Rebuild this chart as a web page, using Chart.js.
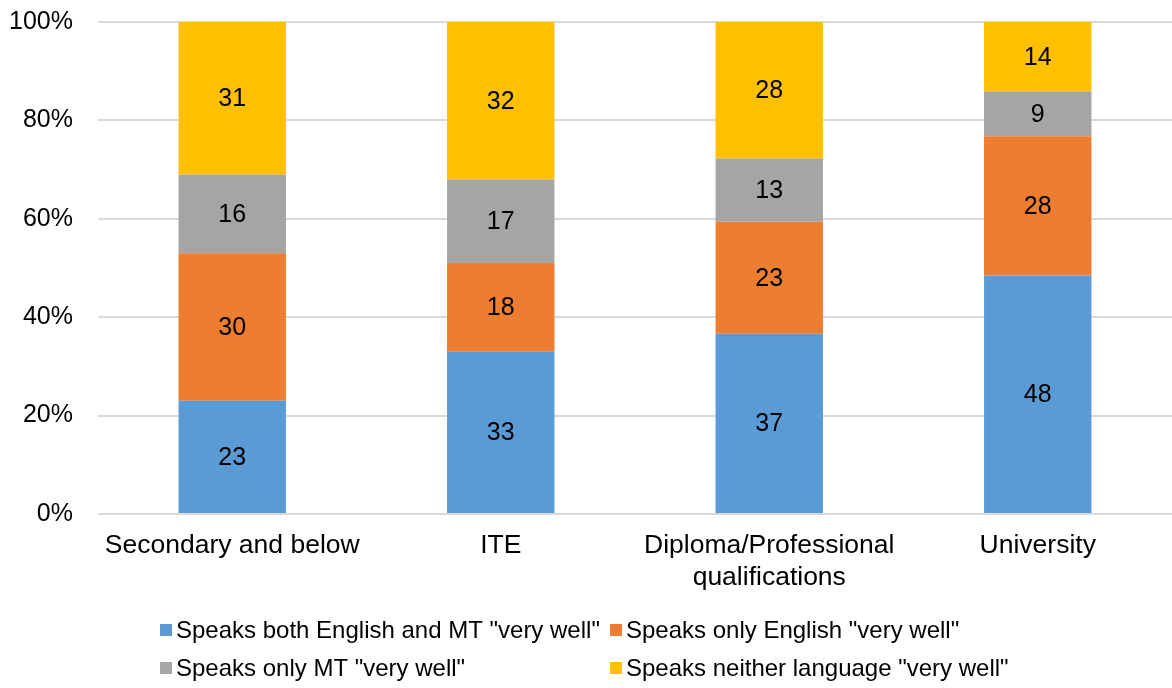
<!DOCTYPE html>
<html>
<head>
<meta charset="utf-8">
<script src="https://cdn.jsdelivr.net/npm/chart.js@4"></script>
<style>
  html, body { margin: 0; padding: 0; background: #fff; }
  #wrap { width: 1172px; height: 688px; }
</style>
</head>
<body>
<div id="wrap"><canvas id="barChart"></canvas></div>
<script>
const categories = ['Secondary and below', 'ITE', ['Diploma/Professional', 'qualifications'], 'University'];
const seriesNames = [
  'Speaks both English and MT "very well"',
  'Speaks only English "very well"',
  'Speaks only MT "very well"',
  'Speaks neither language "very well"'
];
const bothVeryWell = [23, 33, 37, 48];
const englishOnly = [30, 18, 23, 28];
const mtOnly = [16, 17, 13, 9];
const neither = [31, 32, 28, 14];
const seriesColors = ['#5B9BD5', '#ED7D31', '#A5A5A5', '#FFC000'];
const yTicks = [0, 20, 40, 60, 80, 100];

const FONT = '"Liberation Sans", Arial, sans-serif';
const raw = [bothVeryWell, englishOnly, mtOnly, neither];

// each column is shown as a share of its own total
const totals = categories.map((c, i) => raw.reduce((s, arr) => s + arr[i], 0));
const shares = raw.map(arr => arr.map((v, i) => v / totals[i] * 100));

const valueLabels = {
  id: 'valueLabels',
  afterDatasetsDraw(chart) {
    const ctx = chart.ctx;
    ctx.save();
    ctx.font = '25px ' + FONT;
    ctx.fillStyle = '#000';
    ctx.textAlign = 'center';
    ctx.textBaseline = 'middle';
    chart.data.datasets.forEach((ds, di) => {
      chart.getDatasetMeta(di).data.forEach((bar, i) => {
        const mid = (bar.y + bar.base) / 2;
        ctx.fillText(String(ds.rawValues[i]), bar.x, mid + 1);
      });
    });
    ctx.restore();
  }
};

// two-column legend under the axis
const gridLegend = {
  id: 'gridLegend',
  afterDraw(chart) {
    const ctx = chart.ctx;
    const cols = [160, 610];
    const rows = [630, 668];
    ctx.save();
    ctx.font = '24px ' + FONT;
    ctx.textBaseline = 'middle';
    ctx.textAlign = 'left';
    chart.data.datasets.forEach((ds, di) => {
      const x = cols[di % 2];
      const y = rows[Math.floor(di / 2)];
      ctx.fillStyle = ds.backgroundColor;
      ctx.fillRect(x, y - 6, 12, 12);
      ctx.fillStyle = '#000';
      ctx.fillText(ds.label, x + 16, y + 1);
    });
    ctx.restore();
  }
};

const ctxBarChart = document.getElementById('barChart').getContext('2d');

const BarChart = new Chart(ctxBarChart, {
  type: 'bar',
  data: {
    labels: categories,
    datasets: seriesNames.map((name, i) => ({
      label: name,
      data: shares[i],
      rawValues: raw[i],
      backgroundColor: seriesColors[i],
      borderWidth: 0,
      barPercentage: 0.4,
      categoryPercentage: 1
    }))
  },
  options: {
    responsive: true,
    maintainAspectRatio: false,
    animation: false,
    layout: { padding: { top: 22, right: 0, left: 0, bottom: 0 } },
    plugins: {
      legend: { display: false },
      tooltip: { enabled: false }
    },
    scales: {
      x: {
        stacked: true,
        grid: { display: false, drawTicks: false },
        border: { display: false },
        ticks: {
          color: '#000',
          font: { family: FONT, size: 26.5 },
          padding: 16,
          maxRotation: 0,
          autoSkip: false
        },
        afterFit: (scale) => {
          scale.height = 174;
          scale.paddingLeft = 0;
          scale.paddingRight = 0;
        }
      },
      y: {
        stacked: true,
        min: 0,
        max: 100,
        afterBuildTicks: (scale) => { scale.ticks = yTicks.map(v => ({ value: v })); },
        grid: { color: '#D9D9D9', lineWidth: 2, drawTicks: false },
        border: { display: false },
        ticks: {
          color: '#000',
          font: { family: FONT, size: 25 },
          padding: 25,
          callback: (v) => v + '%'
        },
        afterFit: (scale) => {
          scale.width = 98;
          scale.paddingTop = 0;
          scale.paddingBottom = 0;
        }
      }
    }
  },
  plugins: [valueLabels, gridLegend]
});
</script>
</body>
</html>
